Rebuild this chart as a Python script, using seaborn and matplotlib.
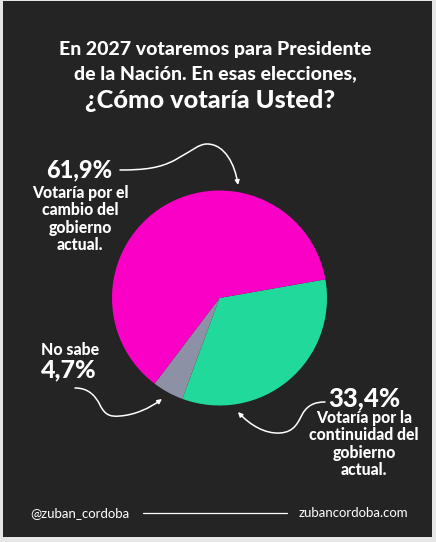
import matplotlib
matplotlib.use("Agg")
import matplotlib.pyplot as plt
import seaborn as sns
from matplotlib.patches import FancyArrowPatch, Rectangle
from matplotlib.path import Path

# ---- data ----
labels = ["Votaría por la continuidad del gobierno actual.", "No sabe",
          "Votaría por el cambio del gobierno actual."]
values = [33.4, 4.7, 61.9]
value_labels = ["33,4%", "4,7%", "61,9%"]
colors = ["#20D99B", "#8C91A6", "#FA00C6"]
title_lines = ["En 2027 votaremos para Presidente",
               "de la Nación. En esas elecciones,",
               "¿Cómo votaría Usted?"]
footer_left = "@zuban_cordoba"
footer_right = "zubancordoba.com"

sns.set_theme(style="dark")
plt.rcParams['font.family'] = ['Lato', 'DejaVu Sans']

W, H = 436, 542
BG = "#242424"
fig = plt.figure(figsize=(W / 100, H / 100), dpi=100, facecolor="#e6e6e6")

def fx(x):
    return x / W

def fy(y):
    return 1 - y / H

# dark panel
fig.patches.append(Rectangle((fx(3), fy(537)), fx(432) - fx(3), fy(1) - fy(537),
                             transform=fig.transFigure, facecolor=BG,
                             edgecolor="none", zorder=-5))

# pie axes
cx, cy, r = 219.5, 298, 107.5
ax = fig.add_axes([fx(cx - r), fy(cy + r), 2 * r / W, 2 * r / H], zorder=2)
ax.set_facecolor("none")
ax.pie(values, colors=colors, startangle=10, counterclock=False,
       wedgeprops=dict(linewidth=0))
ax.set_xlim(-1, 1)
ax.set_ylim(-1, 1)
ax.set_aspect("auto")
ax.axis("off")

white = "white"
W_ = "black"
# title
fig.text(fx(215), fy(50), title_lines[0], ha="center", va="center",
         color=white, fontsize=14, fontweight=W_)
fig.text(fx(215), fy(74), title_lines[1], ha="center", va="center",
         color=white, fontsize=14, fontweight=W_)
fig.text(fx(210), fy(101), title_lines[2], ha="center", va="center",
         color=white, fontsize=18.3, fontweight=W_)

# labels
fig.text(fx(79), fy(170), value_labels[2], ha="center", va="center",
         color=white, fontsize=17, fontweight=W_)
fig.text(fx(80), fy(185), "Votaría por el\ncambio del\ngobierno\nactual.",
         ha="center", va="top", color=white, fontsize=11.3,
         fontweight=W_, linespacing=1.1)

fig.text(fx(70), fy(350), labels[1], ha="center", va="center",
         color=white, fontsize=11.4, fontweight=W_)
fig.text(fx(69), fy(370), value_labels[1], ha="center", va="center",
         color=white, fontsize=18, fontweight=W_)

fig.text(fx(364), fy(398), value_labels[0], ha="center", va="center",
         color=white, fontsize=18.5, fontweight=W_)
fig.text(fx(364), fy(410), "Votaría por la\ncontinuidad del\ngobierno\nactual.",
         ha="center", va="top", color=white, fontsize=11.3,
         fontweight=W_, linespacing=1.1)

# curved arrows
def curve(pts):
    verts = [(fx(x), fy(y)) for x, y in pts]
    codes = [Path.MOVETO] + [Path.CURVE4] * (len(verts) - 1)
    return Path(verts, codes)

arrows = [
    [(120, 170), (145, 170), (160, 168), (175, 160),
     (193, 150), (199, 144), (207, 144),
     (225, 144), (235, 165), (238, 185)],
    [(75, 388), (88, 388), (95, 395), (100, 405),
     (105, 415), (110, 417), (120, 416),
     (135, 415), (150, 408), (162, 399)],
    [(325, 402), (315, 402), (308, 405), (303, 413),
     (298, 422), (295, 432), (280, 433),
     (265, 434), (250, 425), (238, 412)],
]
for pts in arrows:
    p = FancyArrowPatch(path=curve(pts), transform=fig.transFigure,
                        arrowstyle="-|>,head_length=2.6,head_width=1.3",
                        color=white, linewidth=1.1, zorder=5)
    fig.patches.append(p)

# footer
fig.text(fx(30), fy(513), footer_left, ha="left", va="center",
         color=white, fontsize=9.5)
fig.text(fx(408), fy(513), footer_right, ha="right", va="center",
         color=white, fontsize=9.5)
fig.lines.append(plt.Line2D([fx(143), fx(287)], [fy(513), fy(513)],
                            transform=fig.transFigure, color=white,
                            linewidth=0.9))

fig.savefig("out.png", dpi=100, facecolor=fig.get_facecolor())
